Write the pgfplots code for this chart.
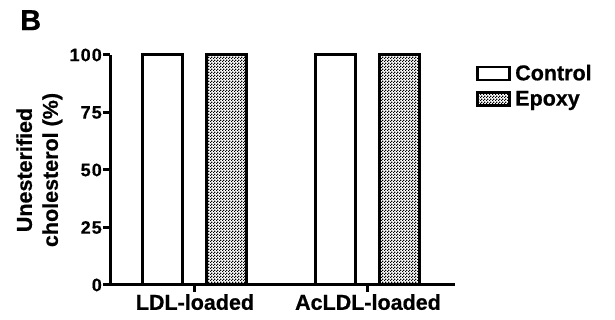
\documentclass[border=0pt]{standalone}
\usepackage{fontspec}
\setmainfont{Liberation Sans}[BoldFeatures={FakeBold=0.6}]
\usepackage{pgfplots}
\pgfplotsset{compat=1.18}
\usetikzlibrary{patterns.meta}
\tikzdeclarepattern{
  name=finechecker,
  type=uncolored,
  bottom left={(0pt,0pt)},
  top right={(3pt,3pt)},
  tile size={(3pt,3pt)},
  code={
    \fill (0pt,0pt) rectangle (1.5pt,1.5pt);
    \fill (1.5pt,1.5pt) rectangle (3pt,3pt);
  }
}
\begin{document}
\begin{tikzpicture}[x=1pt,y=1pt]
\useasboundingbox (0,0) rectangle (615,320);
\node[anchor=north west, inner sep=0pt, font=\fontsize{29}{30}\selectfont\bfseries] at (20,310) {B};
\begin{axis}[
  at={(110pt,35pt)}, anchor=south west,
  scale only axis, width=345pt, height=230pt,
  xmin=-0.491, xmax=1.503, ymin=0, ymax=100,
  axis x line=bottom, axis y line=left,
  axis line style={line width=3pt, -},
  clip=false,
  xtick={0,1}, xticklabels={LDL-loaded, AcLDL-loaded},
  ytick={0,25,50,75,100},
  tick align=outside, major tick length=7pt,
  tick style={line width=3pt, black},
  /pgf/number format/assume math mode=true,
  yticklabel style={font=\fontsize{18}{18}\selectfont\bfseries\addfontfeature{LetterSpace=6}, inner sep=1pt},
  xticklabel style={font=\fontsize{21.5}{22}\selectfont\bfseries, inner sep=2pt},
  ylabel={Unesterified\\cholesterol (\%)},
  ylabel style={align=center, font=\fontsize{21.5}{26}\selectfont\bfseries, at={(axis description cs:-0.205,0.5)}, anchor=center},
  legend style={draw=none, fill=none, at={(axis description cs:1.061,0.965)}, anchor=north west, inner sep=0pt, row sep=6pt, font=\fontsize{21.5}{22}\selectfont\bfseries, nodes={inner sep=1.5pt}},
  legend cell align=left,
  mylegend/.style={legend image code/.code={\draw[##1, line width=2.5pt] (0pt,-6.5pt) rectangle (32pt,6.5pt);}},
]
\addplot[ybar, bar width=0.231, bar shift=-0.185, draw=black, line width=3pt, fill=white, mylegend] coordinates {(0,100) (1,100)};
\addplot[ybar, bar width=0.231, bar shift=0.185, draw=black, line width=3pt, pattern=finechecker, mylegend] coordinates {(0,100) (1,100)};
\legend{\hspace{3pt}Control, \hspace{3pt}Epoxy}
\end{axis}
\end{tikzpicture}
\end{document}
